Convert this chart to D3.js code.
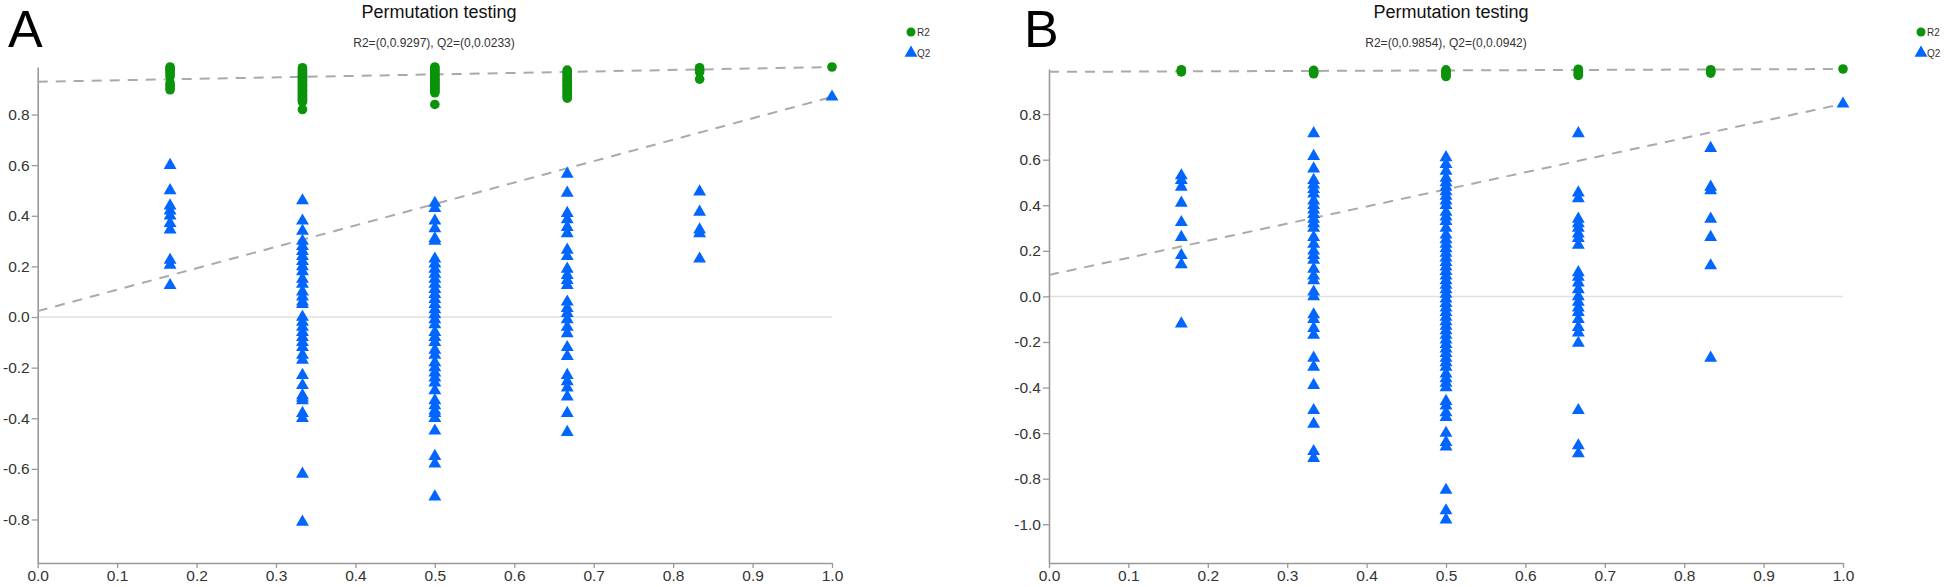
<!DOCTYPE html>
<html>
<head>
<meta charset="utf-8">
<script src="https://cdn.jsdelivr.net/npm/d3@7"></script>
<style>
  body { margin: 0; background: #fff; }
  text { font-family: "Liberation Sans", Arial, sans-serif; }
</style>
</head>
<body>
<svg width="1944" height="587"></svg>
<script>
// permuted correlation positions (x) shared by both panels
const permX = [1 / 6, 2 / 6, 3 / 6, 4 / 6, 5 / 6, 1];
const xTicks = [0, 0.1, 0.2, 0.3, 0.4, 0.5, 0.6, 0.7, 0.8, 0.9, 1.0];

// panel A
const aR2 = [
  [0.988, 0.982, 0.975, 0.968, 0.96, 0.95, 0.925, 0.915, 0.905, 0.898],
  [0.985, 0.978, 0.972, 0.966, 0.96, 0.955, 0.95, 0.945, 0.94, 0.935, 0.93, 0.925, 0.92, 0.915,
   0.91, 0.905, 0.9, 0.895, 0.89, 0.885, 0.88, 0.875, 0.87, 0.865, 0.86, 0.855, 0.85, 0.82],
  [0.988, 0.982, 0.976, 0.97, 0.964, 0.958, 0.952, 0.946, 0.94, 0.934, 0.928, 0.922, 0.916,
   0.91, 0.904, 0.898, 0.892, 0.886, 0.84],
  [0.976, 0.97, 0.963, 0.956, 0.95, 0.943, 0.936, 0.93, 0.923, 0.916, 0.91, 0.903, 0.896,
   0.89, 0.883, 0.876, 0.87, 0.865],
  [0.985, 0.975, 0.968, 0.94],
  [0.988]
];
const aQ2 = [
  [0.6, 0.5, 0.44, 0.42, 0.4, 0.37, 0.345, 0.225, 0.205, 0.125],
  [0.46, 0.38, 0.34, 0.3, 0.28, 0.26, 0.24, 0.22, 0.2, 0.18, 0.15, 0.13, 0.1, 0.08, 0.06, 0.05,
   0.0, -0.02, -0.04, -0.06, -0.08, -0.1, -0.12, -0.15, -0.17, -0.23, -0.27, -0.31, -0.32,
   -0.33, -0.38, -0.4, -0.62, -0.81],
  [0.45, 0.43, 0.38, 0.35, 0.31, 0.3, 0.23, 0.21, 0.19, 0.17, 0.15, 0.13, 0.11, 0.09, 0.07,
   0.05, 0.03, 0.01, -0.01, -0.03, -0.06, -0.08, -0.1, -0.13, -0.15, -0.18, -0.2, -0.22,
   -0.24, -0.26, -0.29, -0.33, -0.35, -0.37, -0.38, -0.4, -0.45, -0.55, -0.58, -0.71],
  [0.565, 0.49, 0.41, 0.385, 0.355, 0.33, 0.265, 0.24, 0.19, 0.165, 0.145, 0.125, 0.06, 0.035,
   0.015, -0.01, -0.04, -0.065, -0.12, -0.155, -0.23, -0.255, -0.28, -0.315, -0.38, -0.455],
  [0.495, 0.415, 0.345, 0.33, 0.23],
  [0.87]
];
const aIntercepts = [0.9297, 0.0233];
const aYDomain = [-0.972, 0.988];
const aYTicks = [-0.8, -0.6, -0.4, -0.2, 0, 0.2, 0.4, 0.6, 0.8];

// panel B
const bR2 = [
  [0.995, 0.99, 0.985],
  [0.992, 0.987, 0.982, 0.977],
  [0.994, 0.988, 0.982, 0.976, 0.97, 0.965],
  [0.997, 0.99, 0.983, 0.975, 0.97],
  [0.995, 0.99, 0.985, 0.98],
  [0.998]
];
const bQ2 = [
  [0.53, 0.51, 0.48, 0.41, 0.325, 0.26, 0.18, 0.14, -0.12],
  [0.715, 0.615, 0.56, 0.51, 0.49, 0.47, 0.45, 0.42, 0.4, 0.38, 0.36, 0.34, 0.32, 0.3, 0.26,
   0.23, 0.2, 0.18, 0.16, 0.12, 0.09, 0.07, 0.02, 0.0, -0.08, -0.1, -0.14, -0.17, -0.27,
   -0.31, -0.39, -0.5, -0.56, -0.68, -0.71],
  [0.61, 0.58, 0.55, 0.52, 0.5, 0.48, 0.46, 0.44, 0.42, 0.4, 0.37, 0.35, 0.33, 0.3, 0.27, 0.25,
   0.23, 0.21, 0.19, 0.17, 0.15, 0.13, 0.11, 0.09, 0.07, 0.05, 0.03, 0.01, -0.01, -0.03,
   -0.05, -0.07, -0.09, -0.11, -0.13, -0.15, -0.17, -0.19, -0.21, -0.23, -0.25, -0.27, -0.29,
   -0.31, -0.34, -0.36, -0.38, -0.4, -0.46, -0.48, -0.51, -0.53, -0.6, -0.64, -0.66, -0.85,
   -0.94, -0.98],
  [0.715, 0.455, 0.43, 0.34, 0.32, 0.3, 0.275, 0.255, 0.225, 0.105, 0.085, 0.06, 0.03, 0.0,
   -0.025, -0.05, -0.07, -0.1, -0.135, -0.16, -0.205, -0.5, -0.655, -0.69],
  [0.65, 0.48, 0.465, 0.34, 0.26, 0.135, -0.27],
  [0.845]
];
const bIntercepts = [0.9854, 0.0942];
const bYDomain = [-1.17, 0.998];
const bYTicks = [-1.0, -0.8, -0.6, -0.4, -0.2, 0, 0.2, 0.4, 0.6, 0.8];

const green = '#0b930b';
const blue = '#0066ff';
const gray = '#999';

const svg = d3.select('svg');

function flat(cols) {
  // turn per-column lists into {x, y} points
  return cols.flatMap((col, i) => col.map(v => ({ x: permX[i], y: v })));
}

function drawPanel(p) {
  const g = svg.append('g');
  const xScale = d3.scaleLinear().domain([0, 1]).range([p.left, p.right]);
  const yScale = d3.scaleLinear().domain(p.yDomain).range([p.bottom, p.top]);

  // panel letter
  g.append('text')
    .attr('x', p.letterX).attr('y', 47)
    .attr('font-size', 52).attr('fill', '#000')
    .text(p.letter);

  g.append('text')
    .attr('x', p.titleX).attr('y', 18)
    .attr('text-anchor', 'middle')
    .attr('font-size', 18).attr('fill', '#111')
    .text('Permutation testing');

  g.append('text')
    .attr('x', p.titleX - 5).attr('y', 47)
    .attr('text-anchor', 'middle')
    .attr('font-size', 12).attr('fill', '#333')
    .text(`R2=(0,${p.intercepts[0]}), Q2=(0,${p.intercepts[1]})`);

  // zero line
  g.append('line')
    .attr('x1', xScale(0)).attr('x2', xScale(1))
    .attr('y1', yScale(0)).attr('y2', yScale(0))
    .attr('stroke', '#e0e0e0').attr('stroke-width', 1.5);

  // axes
  const xAxis = d3.axisBottom(xScale)
    .tickValues(xTicks).tickFormat(d => d.toFixed(1))
    .tickSize(5).tickSizeOuter(0);
  const gx = g.append('g').attr('transform', `translate(0,${p.bottom})`).call(xAxis);

  const yAxis = d3.axisLeft(yScale)
    .tickValues(p.yTicks).tickFormat(d => d.toFixed(1))
    .tickSize(6).tickSizeOuter(0);
  const gy = g.append('g').attr('transform', `translate(${p.left},0)`).call(yAxis);

  [gx, gy].forEach(a => {
    a.select('.domain').attr('stroke', gray).attr('stroke-width', 1.6);
    a.selectAll('.tick line').attr('stroke', gray).attr('stroke-width', 1.3);
    a.selectAll('.tick text').attr('fill', '#333').attr('font-size', 15.5)
      .attr('font-family', '"Liberation Sans", Arial, sans-serif');
  });
  gx.selectAll('.tick text').attr('y', 7).attr('dy', '0.72em');
  gy.selectAll('.tick text').attr('x', -8);

  // regression lines
  const r2 = p.r2, q2 = p.q2;
  const lines = [
    [p.intercepts[0], r2[r2.length - 1][0]],
    [p.intercepts[1], q2[q2.length - 1][0]]
  ];
  g.selectAll('.reg').data(lines).enter().append('line')
    .attr('x1', xScale(0)).attr('x2', xScale(1))
    .attr('y1', d => yScale(d[0])).attr('y2', d => yScale(d[1]))
    .attr('stroke', '#aaa').attr('stroke-width', 2)
    .attr('stroke-dasharray', '10,8');

  // points
  g.selectAll('.r2').data(flat(r2)).enter().append('circle')
    .attr('cx', d => xScale(d.x)).attr('cy', d => yScale(d.y))
    .attr('r', 4.8).attr('fill', green);

  const tri = d3.symbol().type(d3.symbolTriangle).size(72);
  g.selectAll('.q2').data(flat(q2)).enter().append('path')
    .attr('d', tri)
    .attr('transform', d => `translate(${xScale(d.x)},${yScale(d.y)})`)
    .attr('fill', blue);

  // legend
  const lg = g.append('g').attr('transform', `translate(${p.legendX},0)`);
  lg.append('circle').attr('cx', 0).attr('cy', 32).attr('r', 4.5).attr('fill', green);
  lg.append('text').attr('x', 6).attr('y', 36).attr('font-size', 10).attr('fill', '#333').text('R2');
  lg.append('path').attr('d', tri).attr('transform', 'translate(0,53)').attr('fill', blue);
  lg.append('text').attr('x', 6).attr('y', 57).attr('font-size', 10).attr('fill', '#333').text('Q2');
}

drawPanel({
  letter: 'A', letterX: 8, titleX: 439, legendX: 911,
  left: 37.7, right: 832, top: 67, bottom: 563,
  yDomain: aYDomain, yTicks: aYTicks, intercepts: aIntercepts,
  r2: aR2, q2: aQ2
});

drawPanel({
  letter: 'B', letterX: 1024, titleX: 1451, legendX: 1921,
  left: 1049, right: 1843, top: 69, bottom: 563,
  yDomain: bYDomain, yTicks: bYTicks, intercepts: bIntercepts,
  r2: bR2, q2: bQ2
});
</script>
</body>
</html>
